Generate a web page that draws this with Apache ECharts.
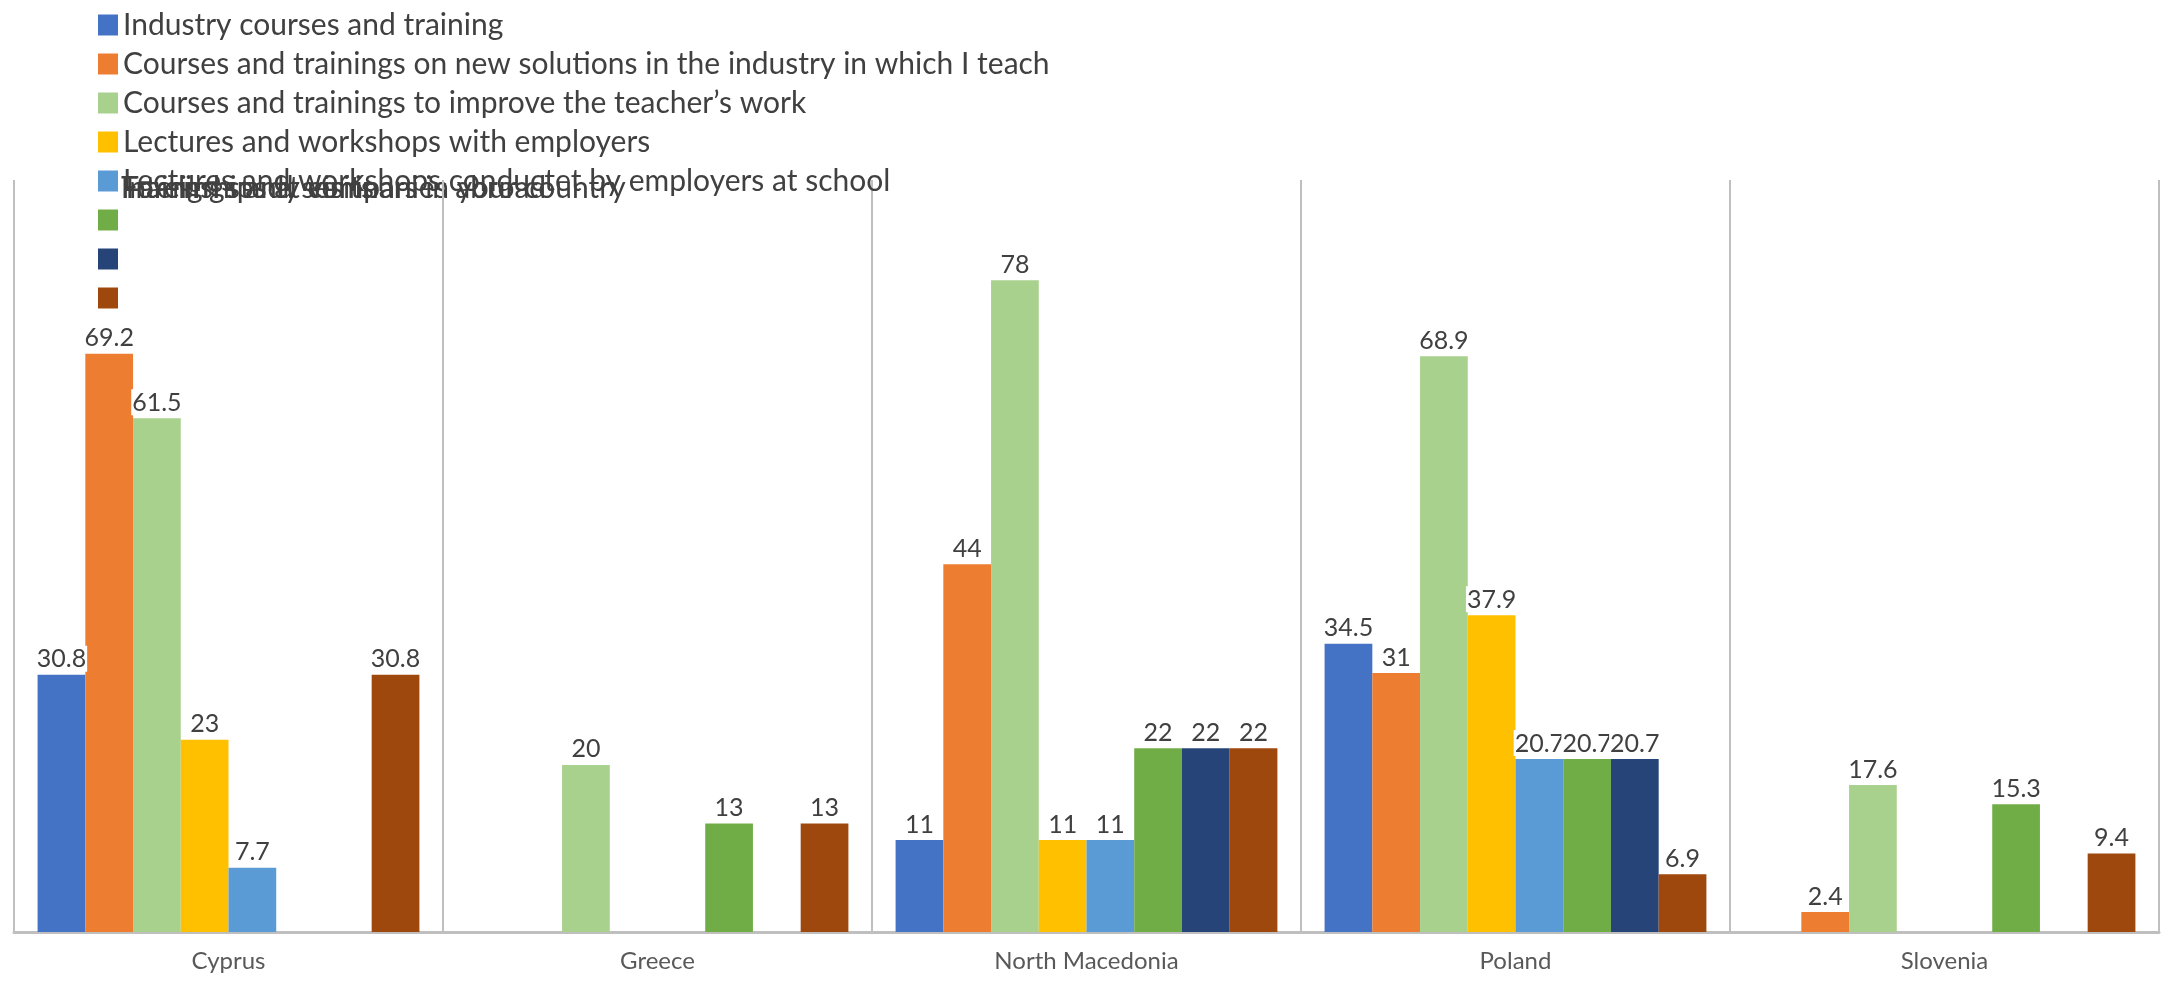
<!DOCTYPE html>
<html>
<head>
<meta charset="utf-8">
<script src="https://cdn.jsdelivr.net/npm/echarts@6/dist/echarts.min.js"></script>
<style>
html,body{margin:0;padding:0;background:#fff;}
#chart{width:2165px;height:981px;}
</style>
</head>
<body>
<div id="chart"></div>
<script>
const categories = ['Cyprus', 'Greece', 'North Macedonia', 'Poland', 'Slovenia'];
const seriesNames = [
  'Industry courses and training',
  'Courses and trainings on new solutions in the industry in which I teach',
  'Courses and trainings to improve the teacher\u2019s work',
  'Lectures and workshops with employers',
  'Lectures and workshops conductet by employers at school',
  'Foreign study visits',
  'Internships at companies abroad',
  'Trainings and seminars in your country'
];
const industryCourses   = [30.8, null, 11, 34.5, null];
const newSolutions      = [69.2, null, 44, 31, 2.4];
const improveTeacher    = [61.5, 20, 78, 68.9, 17.6];
const lecturesEmployers = [23, null, 11, 37.9, null];
const lecturesAtSchool  = [7.7, null, 11, 20.7, null];
const studyVisits       = [null, 13, 22, 20.7, 15.3];
const internships       = [null, null, 22, 20.7, null];
const trainingsCountry  = [30.8, 13, 22, 6.9, 9.4];
const seriesData = [industryCourses, newSolutions, improveTeacher, lecturesEmployers,
                    lecturesAtSchool, studyVisits, internships, trainingsCountry];
const colors = ['#4472C4', '#ED7D31', '#A9D18E', '#FFC000', '#5B9BD5', '#70AD47', '#264478', '#9E480E'];
const FONT = 'Lato';

const chart = echarts.init(document.getElementById('chart'));
const series = seriesNames.map((n, i) => ({
  name: n,
  type: 'bar',
  data: seriesData[i],
  itemStyle: { color: colors[i] },
  barGap: '0%',
  barCategoryGap: '11%',
  label: {
    show: true,
    position: 'top',
    distance: 3,
    color: '#404040',
    fontFamily: FONT,
    fontSize: 25,
    backgroundColor: '#ffffff',
    padding: [1, 1, 0, 1]
  }
}));

chart.setOption({
  animation: false,
  color: colors,
  legend: {
    orient: 'vertical',
    left: 93,
    top: 5,
    icon: 'rect',
    itemWidth: 20,
    itemHeight: 21,
    itemGap: 9,
    selectedMode: false,
    data: seriesNames,
    formatter: function (name) {
      return seriesNames.indexOf(name) < 5 ? name : ' ';
    },
    textStyle: { fontFamily: FONT, fontSize: 30, color: '#404040', lineHeight: 30 }
  },
  graphic: seriesNames.slice(5).map(n => ({
    type: 'text',
    left: 121,
    top: 173,
    silent: true,
    style: { text: n, font: '30px ' + FONT, fill: '#404040' }
  })),
  grid: { left: 14, right: 6, top: 180, bottom: 49, containLabel: false },
  xAxis: {
    type: 'category',
    data: categories,
    axisLine: { show: true, lineStyle: { color: '#bfbfbf', width: 3 } },
    axisTick: { show: false },
    splitLine: { show: true, lineStyle: { color: '#bfbfbf', width: 2 } },
    axisLabel: { color: '#595959', fontFamily: FONT, fontSize: 24, margin: 17 }
  },
  yAxis: {
    type: 'value',
    min: 0,
    max: 90,
    interval: 10,
    show: false,
    splitLine: { show: false }
  },
  series: series
});
</script>
</body>
</html>
